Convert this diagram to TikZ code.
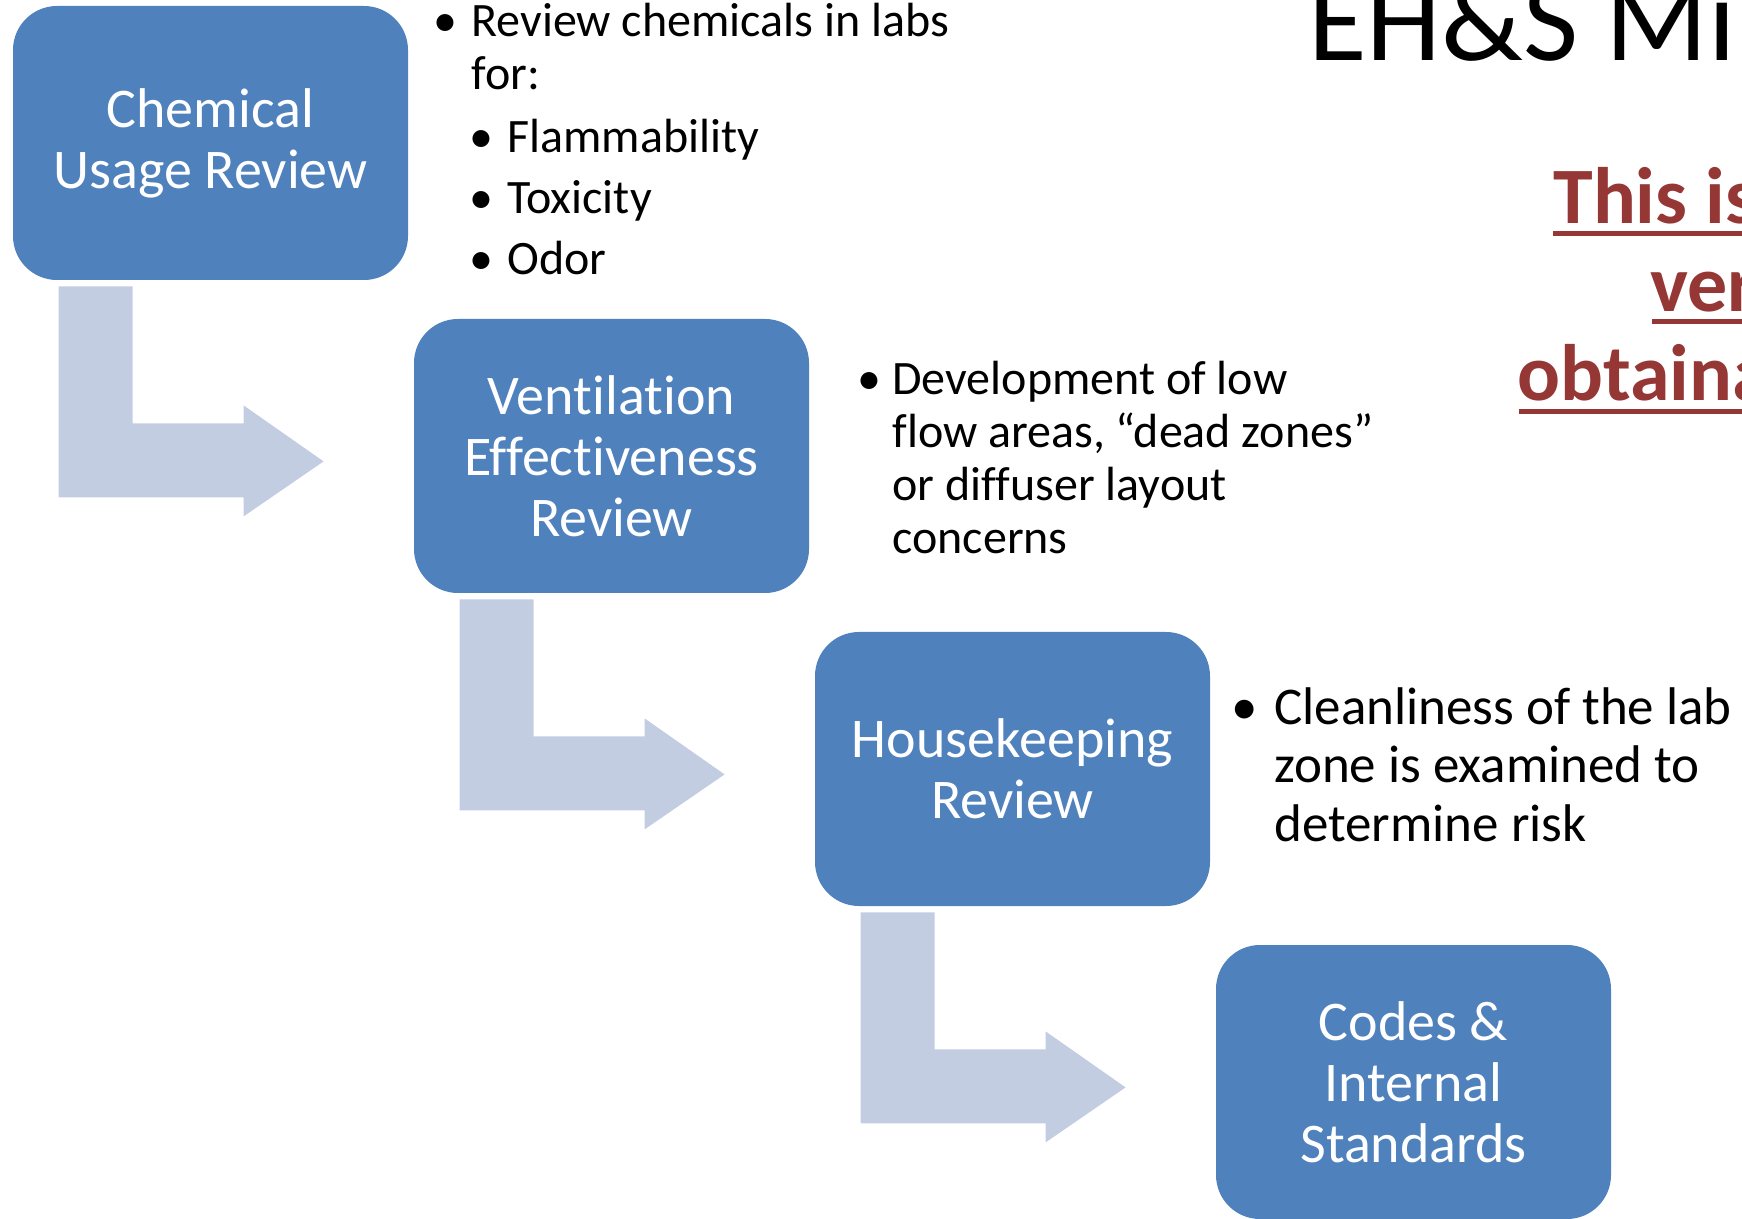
\documentclass[tikz,border=0pt]{standalone}
\usepackage{fontspec}
\setmainfont{Carlito}[Ligatures={NoCommon}]
\usetikzlibrary{calc}

\definecolor{boxblue}{RGB}{79,129,189}
\definecolor{arrowblue}{RGB}{195,205,226}
\definecolor{notered}{RGB}{149,55,53}

\tikzset{
  stepbox/.style={fill=boxblue, rounded corners=22pt, minimum width=197.5pt, minimum height=137pt,
    inner sep=0pt, text=white, align=center, font=\fontsize{28}{30.5}\selectfont},
  bendarrow/.style={fill=arrowblue},
  txt/.style={anchor=base west, inner sep=0pt, font=\fontsize{24}{26.5}\selectfont},
  dot/.style={anchor=base, inner sep=0pt, font=\fontsize{24}{26.5}\selectfont},
  note/.style={anchor=base west, inner sep=0pt, text=notered, font=\fontsize{40}{44}\selectfont\bfseries},
  uline/.style={notered, line width=2.5pt},
}

\begin{document}
\begin{tikzpicture}[x=0.5pt,y=-0.5pt]
    \useasboundingbox (0,0) rectangle (1742,1219);

    % steps
    \node[stepbox] (chem) at (210.5,143) {Chemical\\Usage Review};
    \node[stepbox] (vent) at (611.5,456) {Ventilation\\Effectiveness\\Review};
    \node[stepbox] (house) at (1012.5,769) {Housekeeping\\Review};
    \node[stepbox] (codes) at (1413.5,1082) {Codes \&\\Internal\\Standards};

    % bent arrows under each step
    \foreach \a in {chem,vent,house}
        \fill[bendarrow] ($(\a.south west)+(46,6)$) -- ++(74,0) -- ++(0,137) -- ++(111,0)
            -- ++(0,-18) -- ++(80,56) -- ++(-80,55) -- ++(0,-19) -- ++(-185,0) -- cycle;

    % chemical usage notes
    \node[dot] (rb) at (445,37) {•};
    \node[txt] (rev0) at (471,37) {Review chemicals in labs};
    \node[txt] (rev1) at (471,90) {for:};
    \foreach \t [count=\k] in {Flammability,Toxicity,Odor} {
        \node[dot] (hb\k) at (481,92+61*\k) {•};
        \node[txt] (haz\k) at (507,92+61*\k) {\t};
    }

    % ventilation notes
    \node[dot] (db) at (869,395) {•};
    \foreach \t [count=\k from 0] in {Development of low,{flow areas, “dead zones”},or diffuser layout,concerns}
        \node[txt] (dev\k) at (892,395+53*\k) {\t};

    % housekeeping notes
    \node[dot, font=\fontsize{26.5}{29}\selectfont] (cb) at (1245,725) {•};
    \foreach \t [count=\k from 0] in {Cleanliness of the lab,zone is examined to,determine risk}
        \node[txt, font=\fontsize{26.5}{29}\selectfont] (cln\k) at (1274,725+58*\k) {\t};

    % title, cut by the page edge
    \node[anchor=base west, inner sep=0pt, font=\fontsize{60}{72}\selectfont] (title) at (1308,61) {EH\&S Mi};

    % red note, cut by the page edge
    \node[note] (n1) at (1553,224) {This is};
    \node[note] (n2) at (1650,312) {ver};
    \node[note] (n3) at (1517,401) {obtaina};
    \draw[uline] ($(n1.base west)+(0,10)$) -- ++(220,0);
    \draw[uline] ($(n2.base west)+(2,10)$) -- ++(120,0);
    \draw[uline] ($(n3.base west)+(2,11)$) -- ++(260,0);
\end{tikzpicture}
\end{document}
